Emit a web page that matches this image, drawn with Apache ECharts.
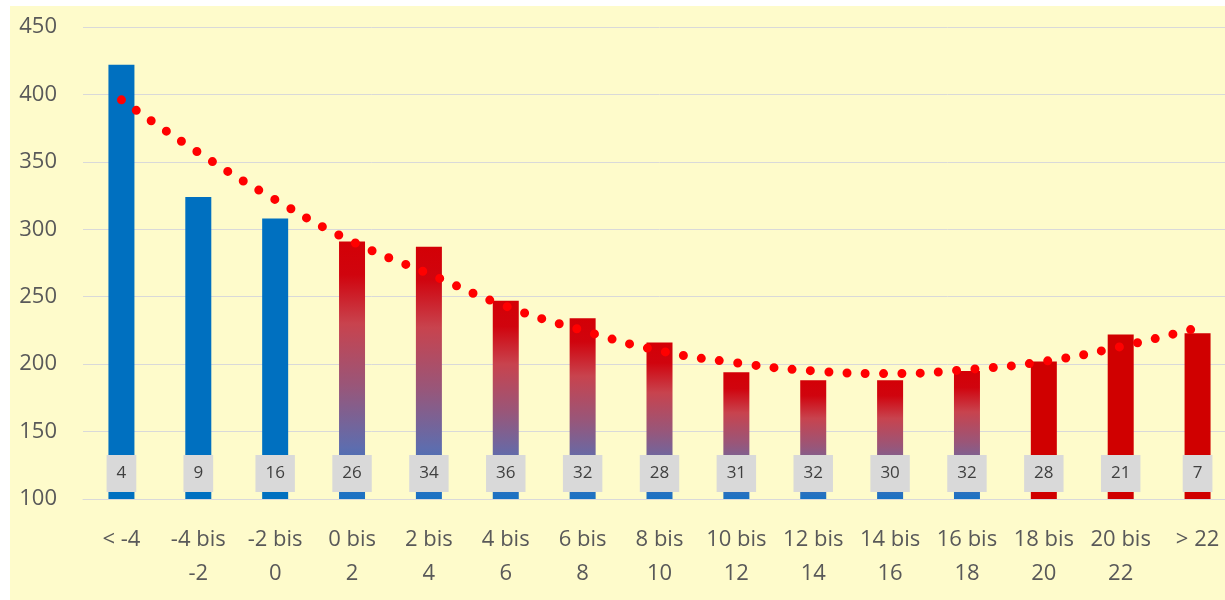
<!DOCTYPE html>
<html>
<head>
<meta charset="utf-8">
<script src="https://cdn.jsdelivr.net/npm/echarts@6/dist/echarts.min.js"></script>
<style>
  html, body { margin: 0; padding: 0; background: #ffffff; overflow: hidden; width: 1225px; height: 600px; }
  #frame { position: absolute; left: 10px; top: 6px; width: 1215px; height: 594px; background: #FEFBCB; }
  #chart { position: absolute; left: 0; top: 0; width: 1236px; height: 600px; }
</style>
</head>
<body>
<div id="frame"></div>
<div id="chart"></div>
<script>
// Temperature classes (°C)
const categories = ['< -4', '-4 bis -2', '-2 bis 0', '0 bis 2', '2 bis 4', '4 bis 6', '6 bis 8',
  '8 bis 10', '10 bis 12', '12 bis 14', '14 bis 16', '16 bis 18', '18 bis 20', '20 bis 22', '> 22'];
// Bar heights per class
const values = [422, 324, 308, 291, 287, 247, 234, 216, 194, 188, 188, 195, 202, 222, 223];
// Number of cases per class (shown in the grey boxes)
const counts = [4, 9, 16, 26, 34, 36, 32, 28, 31, 32, 30, 32, 28, 21, 7];
// Polynomial trend through the bar heights
const trend = [396, 357, 322, 291, 267, 243, 225, 210, 201, 195, 193, 196, 202, 213, 227];
// Y axis ticks
const yTicks = [100, 150, 200, 250, 300, 350, 400, 450];

const BLUE = '#0070C0';
const RED = '#D00000';
const mixed = {
  type: 'linear', x: 0, y: 0, x2: 0, y2: 1,
  colorStops: [
    { offset: 0, color: '#D30006' },
    { offset: 0.13, color: '#D0040E' },
    { offset: 0.32, color: '#C8434E' },
    { offset: 0.56, color: '#995679' },
    { offset: 0.8, color: '#5E6DAE' },
    { offset: 1, color: '#1872C4' }
  ]
};

function barColor(i) {
  if (i < 3) return BLUE;
  if (i >= 12) return RED;
  return mixed;
}

const chart = echarts.init(document.getElementById('chart'), null, { renderer: 'canvas' });
const font = 'Open Sans';

chart.setOption({
  animation: false,
  backgroundColor: 'transparent',
  grid: { left: 83, right: 0, top: 27, bottom: 101, containLabel: false },
  xAxis: {
    type: 'category',
    data: categories,
    axisLine: { show: true, lineStyle: { color: '#D9D9D9', width: 1 } },
    axisTick: { show: false },
    axisLabel: {
      interval: 0,
      margin: 24,
      color: '#595959',
      fontFamily: font,
      fontSize: 22,
      lineHeight: 34,
      formatter: v => v.replace(' bis ', ' bis\n')
    }
  },
  yAxis: {
    type: 'value',
    min: yTicks[0],
    max: yTicks[yTicks.length - 1],
    interval: 50,
    axisLine: { show: false },
    axisTick: { show: false },
    splitLine: { lineStyle: { color: '#D9D9D9', width: 1 } },
    axisLabel: { margin: 26, color: '#595959', fontFamily: font, fontSize: 22 }
  },
  series: [
    {
      type: 'bar',
      barWidth: 26,
      z: 2,
      data: values.map((v, i) => ({ value: v, itemStyle: { color: barColor(i) } })),
      label: {
        show: true,
        position: 'insideBottom',
        distance: 7,
        formatter: p => String(counts[p.dataIndex]),
        backgroundColor: '#D9D9D9',
        color: '#404040',
        fontFamily: font,
        fontSize: 17,
        lineHeight: 17,
        padding: [10, 10, 10, 10]
      }
    },
    {
      type: 'line',
      data: trend,
      smooth: 0.5,
      symbol: 'none',
      z: 5,
      lineStyle: { color: '#FF0000', width: 9, type: [0, 18.3], cap: 'round' }
    }
  ]
});
</script>
</body>
</html>
